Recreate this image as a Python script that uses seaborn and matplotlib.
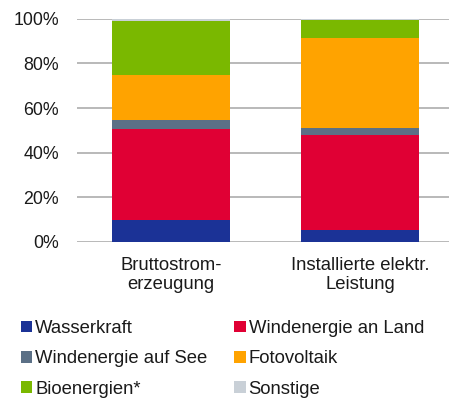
import numpy as np
import pandas as pd
import matplotlib
matplotlib.use("Agg")
import matplotlib.pyplot as plt
import seaborn as sns
from matplotlib.patches import Patch

# Anteile der erneuerbaren Energieträger (in %)
categories = ["Bruttostrom-\nerzeugung", "Installierte elektr.\nLeistung"]
series = ["Wasserkraft", "Windenergie an Land", "Windenergie auf See",
          "Fotovoltaik", "Bioenergien*", "Sonstige"]
wasserkraft = [9.8, 5.5]
wind_land = [40.6, 42.2]
wind_see = [4.3, 3.4]
fotovoltaik = [20.0, 40.1]
bioenergien = [24.4, 8.3]
sonstige = [0.9, 0.5]
colors = ["#1B3296", "#E00034", "#5B7086", "#FFA300", "#7AB800", "#C9D0D7"]
yticks = [0, 20, 40, 60, 80, 100]
ytick_labels = ["0%", "20%", "40%", "60%", "80%", "100%"]

sns.set_theme(style="white")
plt.rcParams["font.family"] = ["Liberation Sans", "DejaVu Sans"]
text_color = "#1a1a1a"
fs = 13.3

values = np.array([wasserkraft, wind_land, wind_see, fotovoltaik, bioenergien, sonstige])
cum = np.cumsum(values, axis=0)

fig = plt.figure(figsize=(4.49, 3.99), dpi=100)
ax = fig.add_axes([77 / 449, (399 - 242) / 399, 372 / 449, (242 - 18.7) / 399])

# stacked bars: draw cumulative totals from the top layer down
for i in range(len(series) - 1, -1, -1):
    df = pd.DataFrame({"Kategorie": categories, "Wert": cum[i]})
    sns.barplot(data=df, x="Kategorie", y="Wert", color=colors[i], width=0.625,
                saturation=1, ax=ax, zorder=3, linewidth=0)

ax.set_xlim(-0.497, 1.471)
ax.set_ylim(0, 100)
ax.set_yticks(yticks)
ax.set_yticklabels(ytick_labels, fontsize=12.8, color=text_color)
ax.set_xlabel("")
ax.set_ylabel("")
ax.tick_params(axis="y", length=0, pad=13)
ax.tick_params(axis="x", length=0, pad=11, labelsize=fs, labelcolor=text_color)
for lbl in ax.get_xticklabels():
    lbl.set_linespacing(1.15)
ax.grid(axis="y", color="#A5A5A5", linewidth=1.1, zorder=0)
ax.set_axisbelow(True)
for s in ax.spines.values():
    s.set_visible(False)

# legend filled row by row: two entries per row
order = [0, 2, 4, 1, 3, 5]
handles = [Patch(facecolor=colors[k], edgecolor="none") for k in order]
labels = [series[k] for k in order]
fig.legend(handles, labels, loc="upper left", bbox_to_anchor=(21 / 449, 1 - 320 / 399),
           ncol=2, frameon=False, fontsize=fs, labelcolor=text_color,
           handlelength=0.62, handleheight=0.6, handletextpad=0.15,
           columnspacing=1.46, labelspacing=0.72, borderpad=0, borderaxespad=0)

fig.savefig("out.png", dpi=100)
